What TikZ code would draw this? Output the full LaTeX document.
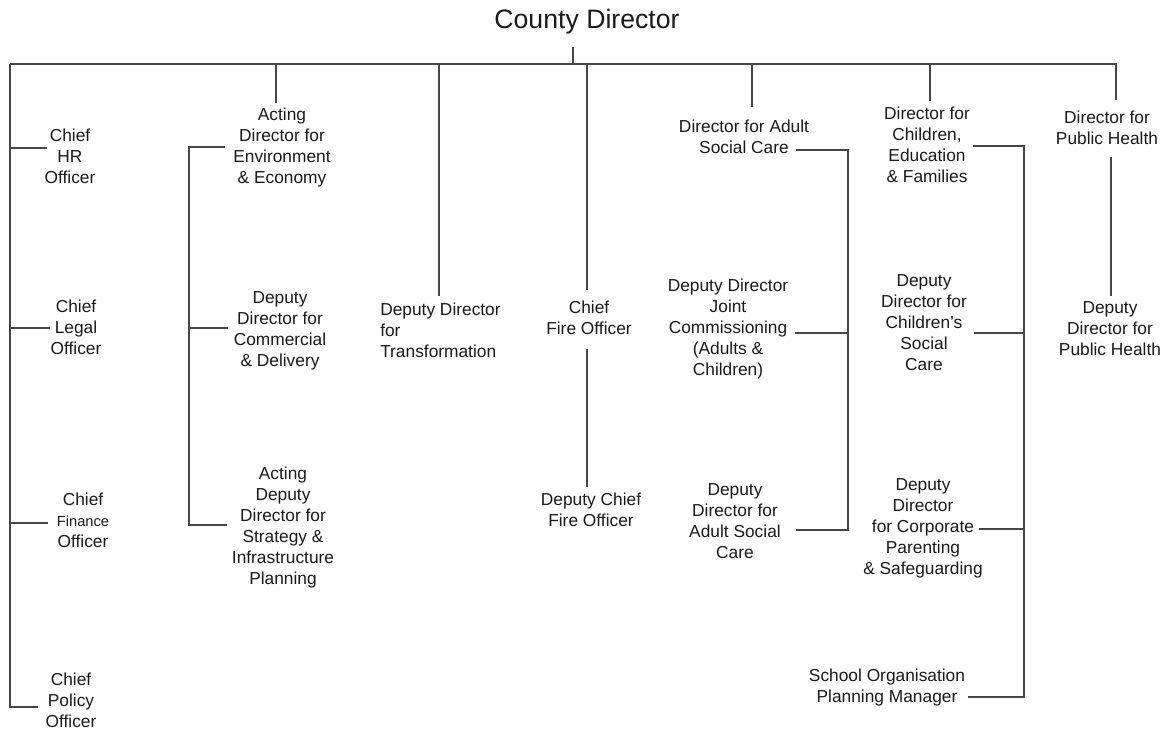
\documentclass[tikz,border=0pt]{standalone}
\usepackage{fontspec}
\setmainfont{Liberation Sans}
\definecolor{ink}{HTML}{1A1A1A}
\definecolor{wirec}{HTML}{474747}
\begin{document}
\begin{tikzpicture}[x=0.75pt,y=-0.75pt,
  lbl/.style={align=center, text=ink, font=\fontsize{13}{15.75}\selectfont, inner sep=0pt},
  wire/.style={draw=wirec, line width=0.8pt}]
\useasboundingbox[fill=white] (0,0) rectangle (1173,733);

% ---- nodes ----
\node[lbl, font=\fontsize{20}{24}\selectfont] (cd) at (587,22) {County Director};
\node[lbl] (hr) at (70,156) {Chief\\HR\\Officer};
\node[lbl] (legal) at (76,327) {Chief\\Legal\\Officer};
\node[lbl] (fin) at (83,520) {Chief\\{\fontsize{11}{15.75}\selectfont Finance}\\Officer};
\node[lbl] (pol) at (71,700) {Chief\\Policy\\Officer};
\node[lbl] (env) at (282,148) {Acting\\Director for\\Environment\\\& Economy};
\node[lbl] (com) at (280,331) {Deputy\\Director for\\Commercial\\\& Delivery};
\node[lbl] (strat) at (283,528) {Acting\\Deputy\\Director for\\Strategy \&\\Infrastructure\\Planning};
\node[lbl, align=left, anchor=west] (trans) at (380,330) {Deputy Director\\for\\Transformation};
\node[lbl] (fire) at (589,318) {Chief\\Fire Officer};
\node[lbl] (dfire) at (591,510) {Deputy Chief\\Fire Officer};
\node[lbl] (adult) at (744,137) {Director for Adult\\Social Care};
\node[lbl] (joint) at (728,329) {Deputy Director\\Joint\\Commissioning\\(Adults \&\\Children)};
\node[lbl] (dasc) at (735,521) {Deputy\\Director for\\Adult Social\\Care};
\node[lbl] (cef) at (927,145) {Director for\\Children,\\Education\\\& Families};
\node[lbl] (dcsc) at (924,323) {Deputy\\Director for\\Children’s\\Social\\Care};
\node[lbl] (corp) at (923,528) {Deputy\\Director\\for Corporate\\Parenting\\\& Safeguarding};
\node[lbl] (school) at (887,688) {School Organisation\\Planning Manager};
\node[lbl] (ph) at (1107,128) {Director for\\Public Health};
\node[lbl] (dph) at (1110,329) {Deputy\\Director for\\Public Health};

% ---- junction coordinates ----
\coordinate (cdB) at (573,47);
\coordinate (barL) at (10,64);
\coordinate (barR) at (1116,64);
\coordinate (spineB) at (10,707);
\coordinate (hrE) at (47,148);
\coordinate (legalE) at (50,328);
\coordinate (finE) at (48,523);
\coordinate (polE) at (38,707);
\coordinate (envT) at (276,103);
\coordinate (envE) at (225,147);
\coordinate (comE) at (228,328);
\coordinate (stratE) at (227,525);
\coordinate (transT) at (439,296);
\coordinate (fireT) at (587,290);
\coordinate (fireB) at (587,349);
\coordinate (dfireT) at (587,487);
\coordinate (adultT) at (752,107);
\coordinate (adultE) at (796,150);
\coordinate (jointE) at (795,333);
\coordinate (dascE) at (796,530);
\coordinate (cefT) at (930,101);
\coordinate (cefE) at (973,146);
\coordinate (dcscE) at (974,333);
\coordinate (corpE) at (979,529);
\coordinate (schoolE) at (968,697);
\coordinate (phT) at (1116,100);
\coordinate (phB) at (1111,157);
\coordinate (dphT) at (1111,296);

% ---- connectors ----
\draw[wire] (cdB) -- (cdB |- barL);
\draw[wire] (barL) -- (barR) -- (phT);
\draw[wire] (barL) -- (spineB) -- (polE);
\draw[wire] (barL |- hrE) -- (hrE);
\draw[wire] (barL |- legalE) -- (legalE);
\draw[wire] (barL |- finE) -- (finE);
\draw[wire] (envT |- barL) -- (envT);
\draw[wire] (envE) -- (189,147) -- (189,525) -- (stratE);
\draw[wire] (189,328) -- (comE);
\draw[wire] (transT |- barL) -- (transT);
\draw[wire] (fireT |- barL) -- (fireT);
\draw[wire] (fireB) -- (dfireT);
\draw[wire] (adultT |- barL) -- (adultT);
\draw[wire] (adultE) -- (848,150) -- (848,530) -- (dascE);
\draw[wire] (jointE) -- (848,333);
\draw[wire] (cefT |- barL) -- (cefT);
\draw[wire] (cefE) -- (1024,146) -- (1024,697) -- (schoolE);
\draw[wire] (dcscE) -- (1024,333);
\draw[wire] (corpE) -- (1024,529);
\draw[wire] (phB) -- (dphT);
\end{tikzpicture}
\end{document}
